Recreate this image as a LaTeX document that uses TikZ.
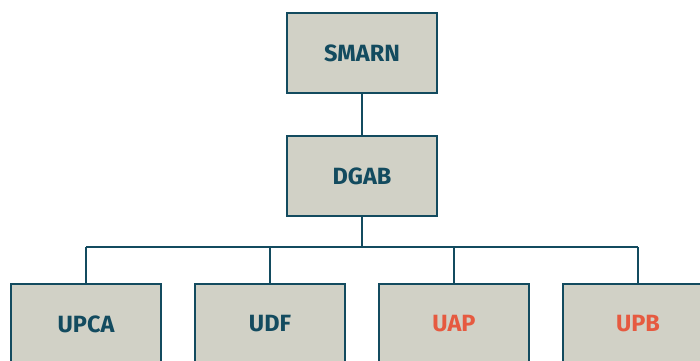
\documentclass[tikz,border=0pt]{standalone}
\usepackage{fontspec}
\setmainfont{Fira Sans}
\usepackage{tikz}
\usetikzlibrary{positioning}
\definecolor{orgteal}{RGB}{19,75,95}
\definecolor{orgstone}{RGB}{209,209,198}
\definecolor{orgred}{RGB}{230,90,64}

\begin{document}
\begin{tikzpicture}[x=1pt, y=1pt,
  unit/.style={rectangle, draw=orgteal, line width=2.4pt, outer sep=0pt, fill=orgstone, minimum width=150pt, minimum height=80pt, align=center, text=orgteal, font=\fontsize{23.5}{28}\selectfont\bfseries},
  unitred/.style={unit, text=orgred},
  link/.style={draw=orgteal, line width=2pt}
]
\useasboundingbox (0,0) rectangle (700,-360);
\node[unit] (smarn) at (362,-53) {SMARN};
\node[unit, below=43pt of smarn] (dgab) {DGAB};
\node[unit] (upca) at (86,-324) {UPCA};
\node[unit, right=34pt of upca] (udf) {UDF};
\node[unitred, right=34pt of udf] (uap) {UAP};
\node[unitred, right=34pt of uap] (upb) {UPB};
\path (dgab.south) ++(0,-31) coordinate (bus);
\draw[link] (smarn) -- (dgab);
\draw[link] (dgab) -- (bus);
\draw[link] (bus -| upca.north) -- (bus -| upb.north);
\foreach \n in {upca,udf,uap,upb}
  \draw[link] (bus -| \n.north) -- (\n.north);
\end{tikzpicture}
\end{document}
